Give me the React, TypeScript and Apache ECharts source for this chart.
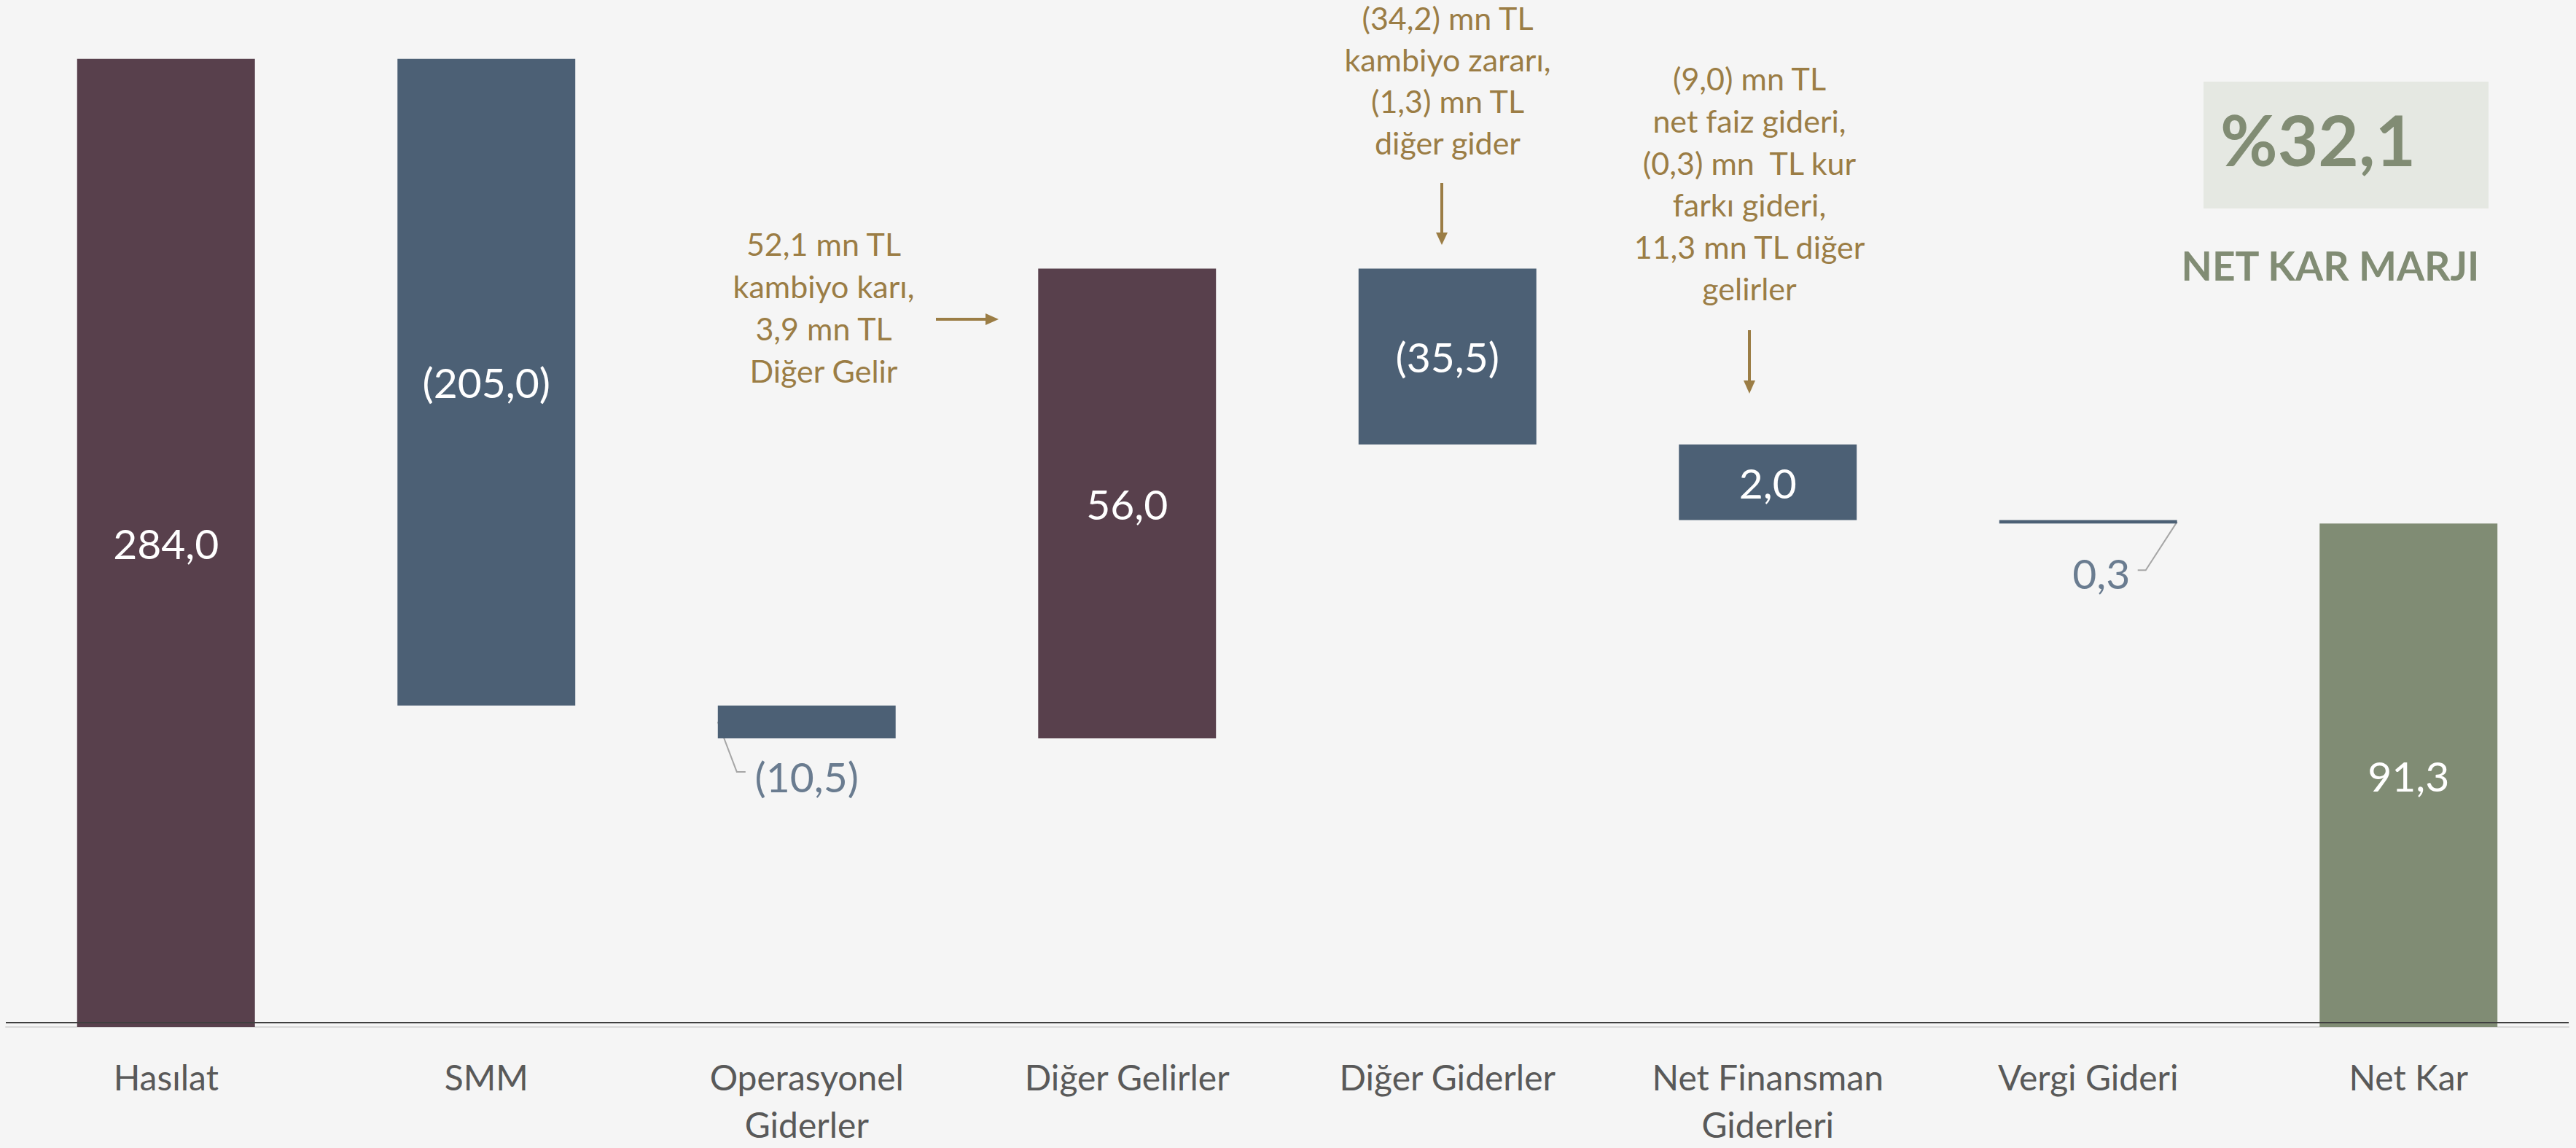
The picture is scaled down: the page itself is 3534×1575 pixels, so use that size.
import React, { useEffect, useRef } from "react";
import * as echarts from "echarts";

// Categories of the waterfall
const categories = [
  "Hasılat",
  "SMM",
  "Operasyonel\nGiderler",
  "Diğer Gelirler",
  "Diğer Giderler",
  "Net Finansman\nGiderleri",
  "Vergi Gideri",
  "Net Kar",
];
// Bar levels as drawn in the picture (chart units): each bar runs from barFrom to barTo
const barFrom = [0, 284, 94.3, 84.7, 222.5, 170.9, 148.7, 0];
const barTo = [284, 94.3, 84.7, 222.5, 170.9, 148.7, 147.7, 147.7];
// Value labels as printed
const valueLabels = ["284,0", "(205,0)", "(10,5)", "56,0", "(35,5)", "2,0", "0,3", "91,3"];
const barKinds = ["income", "expense", "expense", "income", "expense", "expense", "expense", "total"];
const outsideLabels = [2, 6];

// Annotation texts
const noteOtherIncome = ["52,1 mn TL", "kambiyo karı,", "3,9 mn TL", "Diğer Gelir"];
const noteOtherExpense = ["(34,2) mn TL", "kambiyo zararı,", "(1,3) mn TL", "diğer gider"];
const noteFinance = ["(9,0) mn TL", "net faiz gideri,", "(0,3) mn  TL kur", "farkı gideri,", "11,3 mn TL diğer", "gelirler"];
const marginValue = "%32,1";
const marginTitle = "NET KAR MARJI";

const COLORS: Record<string, string> = {
  income: "#58404C",
  expense: "#4C6075",
  total: "#808C74",
};
const GOLD = "#9B7D45";
const FONT = "Lato, 'Open Sans', sans-serif";

export default function App() {
  const ref = useRef<HTMLDivElement>(null);

  useEffect(() => {
    document.body.style.margin = "0";
    const chart = echarts.init(ref.current!, null, { renderer: "svg" });

    const baseData = barFrom.map((f, i) => Math.min(f, barTo[i]));
    const valData = barFrom.map((f, i) => {
      const outside = outsideLabels.includes(i);
      return {
        value: Math.abs(barTo[i] - f),
        itemStyle: { color: COLORS[barKinds[i]] },
        label: outside
          ? {
              show: true,
              position: "bottom",
              distance: i === 2 ? 18 : 34,
              offset: i === 6 ? [18, 0] : [0, 0],
              color: "#6A7C90",
            }
          : { show: true, position: "inside", color: "#FFFFFF" },
      };
    });

    const option: any = {
      animation: false,
      backgroundColor: "#F5F5F5",
      grid: { left: 8, right: 10, top: 6, bottom: 159, containLabel: false },
      xAxis: {
        type: "category",
        data: categories,
        axisTick: { show: false },
        axisLine: { show: true, lineStyle: { color: "#D9D9D9", width: 2 } },
        axisLabel: {
          interval: 0,
          margin: 36,
          color: "#595959",
          fontFamily: FONT,
          fontSize: 48,
          lineHeight: 65,
        },
      },
      yAxis: {
        type: "value",
        min: 0,
        max: 300,
        show: false,
        splitLine: { show: false },
      },
      series: [
        {
          type: "bar",
          stack: "w",
          barWidth: "55.5%",
          silent: true,
          itemStyle: { color: "rgba(0,0,0,0)" },
          data: baseData,
          markLine: {
            silent: true,
            symbol: ["none", "none"],
            label: { show: false },
            lineStyle: { color: "#3F3F3F", width: 2, type: "solid" },
            data: [{ yAxis: 1.3 }],
          },
        },
        {
          type: "bar",
          stack: "w",
          barWidth: "55.5%",
          data: valData,
          label: {
            show: true,
            fontFamily: FONT,
            fontSize: 57,
            lineHeight: 68,
            formatter: (p: any) => valueLabels[p.dataIndex],
          },
        },
      ],
    };
    chart.setOption(option);

    // Leader lines for outside labels, positioned from the axes
    const px = (i: number, v: number) => chart.convertToPixel({ gridIndex: 0 }, [i, v]) as number[];
    const band = px(1, 0)[0] - px(0, 0)[0];
    const bw = band * 0.555;
    const opMid = px(2, (barFrom[2] + barTo[2]) / 2);
    const opBottom = px(2, Math.min(barFrom[2], barTo[2]))[1];
    const opLeft = opMid[0] - bw / 2;
    const vMid = px(6, (barFrom[6] + barTo[6]) / 2);
    const vBottom = px(6, Math.min(barFrom[6], barTo[6]))[1];
    const vRight = vMid[0] + bw / 2;

    const textBlock = (lines: string[], x: number, y: number, lh: number) => ({
      type: "text",
      x,
      y,
      silent: true,
      style: {
        text: lines.join("\n"),
        fill: GOLD,
        fontSize: 43,
        fontFamily: FONT,
        lineHeight: lh,
        align: "center",
        verticalAlign: "top",
      },
    });

    const graphic: any[] = [
      {
        type: "polyline",
        silent: true,
        shape: {
          points: [
            [opLeft, opMid[1]],
            [opLeft + 26, opBottom + 46],
            [opLeft + 38, opBottom + 46],
          ],
        },
        style: { stroke: "#A6A6A6", lineWidth: 2, fill: "none" },
      },
      {
        type: "polyline",
        silent: true,
        shape: {
          points: [
            [vRight, vMid[1]],
            [vRight - 43, vBottom + 64],
            [vRight - 54, vBottom + 64],
          ],
        },
        style: { stroke: "#A6A6A6", lineWidth: 2, fill: "none" },
      },
      textBlock(noteOtherIncome, 1130, 305, 58),
      textBlock(noteOtherExpense, 1986, -4, 57),
      textBlock(noteFinance, 2400, 79, 57.6),
      // arrow 1 (horizontal)
      { type: "line", silent: true, shape: { x1: 1284, y1: 438, x2: 1354, y2: 438 }, style: { stroke: GOLD, lineWidth: 4 } },
      { type: "polygon", silent: true, shape: { points: [[1352, 430], [1370, 438], [1352, 446]] }, style: { fill: GOLD } },
      // arrow 2 (vertical)
      { type: "line", silent: true, shape: { x1: 1978, y1: 251, x2: 1978, y2: 322 }, style: { stroke: GOLD, lineWidth: 4 } },
      { type: "polygon", silent: true, shape: { points: [[1970, 319], [1986, 319], [1978, 336]] }, style: { fill: GOLD } },
      // arrow 3 (vertical)
      { type: "line", silent: true, shape: { x1: 2400, y1: 453, x2: 2400, y2: 525 }, style: { stroke: GOLD, lineWidth: 4 } },
      { type: "polygon", silent: true, shape: { points: [[2392, 522], [2408, 522], [2400, 540]] }, style: { fill: GOLD } },
      // net margin box
      { type: "rect", silent: true, shape: { x: 3023, y: 112, width: 391, height: 174 }, style: { fill: "#E5E8E2" } },
      {
        type: "text",
        silent: true,
        x: 3046,
        y: 190,
        style: {
          text: marginValue,
          fill: "#818C74",
          fontSize: 96,
          fontWeight: "bold",
          fontFamily: FONT,
          align: "left",
          verticalAlign: "middle",
        },
      },
      {
        type: "text",
        silent: true,
        x: 3197,
        y: 364,
        style: {
          text: marginTitle,
          fill: "#818C74",
          fontSize: 55,
          fontWeight: "bold",
          fontFamily: FONT,
          align: "center",
          verticalAlign: "middle",
        },
      },
    ];
    chart.setOption({ graphic });

    return () => chart.dispose();
  }, []);

  return (
    <div
      ref={ref}
      style={{ position: "fixed", left: 0, top: 0, width: 3534, height: 1575, background: "#F5F5F5" }}
    />
  );
}
